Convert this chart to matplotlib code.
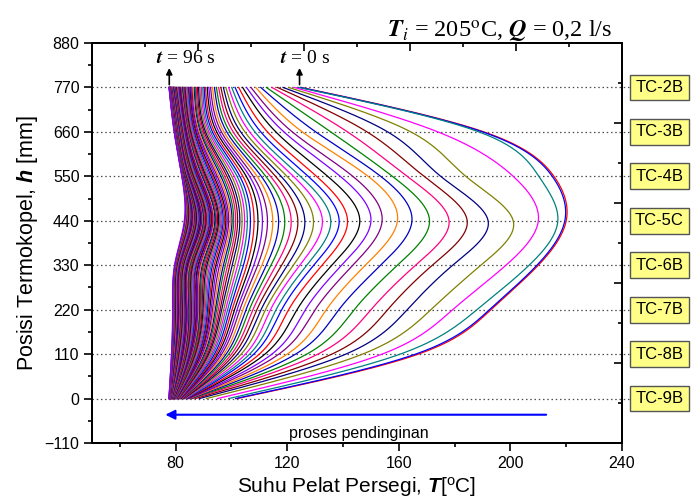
import numpy as np
import matplotlib.pyplot as plt
from matplotlib.patches import Rectangle

plt.rcParams['font.family'] = 'Liberation Sans'
plt.rcParams['mathtext.fontset'] = 'custom'
plt.rcParams['mathtext.rm'] = 'Liberation Sans'
plt.rcParams['mathtext.it'] = 'Liberation Sans:italic'
plt.rcParams['mathtext.bf'] = 'Liberation Sans:bold'
plt.rcParams['mathtext.bfit'] = 'Liberation Sans:bold:italic'

# thermocouple positions (mm) and labels
tc_names = ["TC-2B", "TC-3B", "TC-4B", "TC-5C", "TC-6B", "TC-7B", "TC-8B", "TC-9B"]
tc_pos = [770, 660, 550, 440, 330, 220, 110, 0]

# temperature (C) of each thermocouple, t = 0 ... 96 s, one value per second
tc2 = [125.0, 124.7, 124.0, 122.5, 120.5, 118.5, 116.5, 114.5, 112.5, 110.5,
       108.7, 107.0, 105.4, 104.0, 102.6, 101.3, 100.1, 99.0, 98.0, 97.1,
       96.2, 95.4, 94.6, 93.9, 93.2, 92.5, 91.9, 91.3, 90.7, 90.2,
       89.7, 89.2, 88.7, 88.2, 87.8, 87.4, 87.0, 86.6, 86.2, 85.8,
       85.5, 85.1, 84.8, 84.5, 84.2, 83.9, 83.6, 83.3, 83.0, 82.8,
       82.5, 82.3, 82.0, 81.8, 81.6, 81.4, 81.2, 81.0, 80.8, 80.6,
       80.4, 80.2, 80.0, 79.9, 79.7, 79.6, 79.4, 79.3, 79.2, 79.1,
       79.0, 78.9, 78.8, 78.7, 78.6, 78.5, 78.4, 78.3, 78.25, 78.2,
       78.15, 78.1, 78.05, 78.0, 77.95, 77.9, 77.85, 77.8, 77.78, 77.76,
       77.74, 77.72, 77.7, 77.68, 77.66, 77.64, 77.62]
tc3 = [190.5, 190.0, 188.7, 174.0, 164.3, 156.0, 148.6, 141.6, 135.6, 130.2,
       125.4, 121.8, 118.8, 115.9, 112.9, 110.5, 108.4, 106.5, 104.8, 103.3,
       101.9, 100.6, 99.4, 98.3, 97.3, 96.4, 95.5, 94.7, 93.9, 93.2,
       92.5, 91.9, 91.3, 90.7, 90.2, 89.7, 89.2, 88.8, 88.4, 88.0,
       87.6, 87.2, 86.9, 86.6, 86.3, 86.0, 85.7, 85.4, 85.1, 84.9,
       84.6, 84.4, 84.2, 84.0, 83.8, 83.6, 83.4, 83.2, 83.0, 82.8,
       82.6, 82.45, 82.3, 82.15, 82.0, 81.85, 81.7, 81.55, 81.4, 81.3,
       81.2, 81.1, 81.0, 80.9, 80.8, 80.7, 80.6, 80.5, 80.4, 80.3,
       80.25, 80.2, 80.15, 80.1, 80.05, 80.0, 79.95, 79.9, 79.85, 79.8,
       79.75, 79.7, 79.65, 79.6, 79.55, 79.5, 79.45]
tc4 = [215.6, 215.0, 210.2, 201.0, 184.0, 175.0, 169.0, 163.0, 157.7, 153.5,
       149.0, 143.5, 139.0, 134.5, 130.5, 127.5, 124.7, 122.2, 119.9, 117.8,
       115.8, 114.0, 112.3, 110.7, 109.2, 107.8, 106.5, 105.3, 104.1, 103.0,
       102.0, 101.0, 100.1, 99.2, 98.4, 97.6, 96.9, 96.2, 95.5, 94.9,
       94.3, 93.7, 93.2, 92.7, 92.2, 91.7, 91.3, 90.9, 90.5, 90.1,
       89.7, 89.4, 89.0, 88.7, 88.4, 88.1, 87.8, 87.5, 87.2, 86.9,
       86.7, 86.4, 86.2, 85.9, 85.7, 85.5, 85.3, 85.1, 84.9, 84.7,
       84.5, 84.35, 84.2, 84.05, 83.9, 83.75, 83.6, 83.45, 83.3, 83.15,
       83.0, 82.95, 82.9, 82.85, 82.8, 82.75, 82.7, 82.65, 82.6, 82.55,
       82.5, 82.45, 82.4, 82.35, 82.3, 82.25, 82.2]
tc5 = [220.0, 219.5, 217.0, 210.0, 201.0, 192.0, 184.5, 178.0, 171.0, 164.7,
       159.5, 154.0, 150.0, 146.0, 141.6, 138.6, 135.6, 132.6, 129.4, 126.3,
       123.8, 121.4, 119.1, 116.9, 114.8, 112.9, 111.1, 109.5, 108.1, 106.8,
       105.7, 104.7, 103.8, 103.0, 102.2, 101.5, 100.8, 100.2, 99.6, 99.0,
       98.5, 98.0, 97.5, 97.0, 96.6, 96.2, 95.8, 95.4, 95.0, 94.6,
       94.3, 94.0, 93.6, 93.3, 93.0, 92.7, 92.4, 92.1, 91.8, 91.5,
       91.2, 90.9, 90.6, 90.3, 90.0, 89.8, 89.5, 89.3, 89.0, 88.8,
       88.5, 88.3, 88.0, 87.8, 87.6, 87.4, 87.1, 86.9, 86.7, 86.5,
       86.3, 86.1, 85.9, 85.7, 85.5, 85.3, 85.1, 84.9, 84.7, 84.5,
       84.3, 84.1, 83.9, 83.7, 83.5, 83.3, 83.1]
tc6 = [210.0, 209.5, 206.7, 198.4, 189.4, 179.3, 172.0, 166.0, 159.5, 153.5,
       148.0, 143.5, 139.5, 136.0, 132.5, 129.5, 127.0, 124.5, 122.2, 120.1,
       118.0, 116.0, 114.2, 112.5, 110.9, 109.4, 108.0, 106.7, 105.5, 104.3,
       103.2, 102.2, 101.2, 100.3, 99.4, 98.6, 97.8, 97.1, 96.4, 95.7,
       95.0, 94.4, 93.8, 93.2, 92.7, 92.2, 91.7, 91.2, 90.7, 90.3,
       89.9, 89.5, 89.1, 88.7, 88.3, 88.0, 87.6, 87.3, 87.0, 86.7,
       86.4, 86.1, 85.8, 85.5, 85.3, 85.0, 84.8, 84.5, 84.3, 84.1,
       83.8, 83.6, 83.4, 83.2, 83.0, 82.8, 82.6, 82.4, 82.2, 82.0,
       81.85, 81.7, 81.5, 81.35, 81.2, 81.05, 80.9, 80.75, 80.6, 80.45,
       80.3, 80.15, 80.0, 79.9, 79.8, 79.7, 79.6]
tc7 = [193.0, 192.5, 188.0, 179.3, 171.5, 163.0, 156.0, 150.0, 144.0, 138.5,
       134.0, 130.0, 126.5, 123.5, 120.5, 118.0, 116.0, 114.0, 112.2, 110.6,
       109.1, 107.7, 106.4, 105.2, 104.1, 103.0, 102.0, 101.1, 100.2, 99.4,
       98.6, 97.9, 97.2, 96.5, 95.9, 95.3, 94.7, 94.2, 93.7, 93.2,
       92.7, 92.2, 91.8, 91.4, 91.0, 90.6, 90.2, 89.8, 89.4, 89.1,
       88.8, 88.5, 88.2, 87.9, 87.6, 87.3, 87.0, 86.7, 86.4, 86.1,
       85.8, 85.6, 85.3, 85.1, 84.8, 84.6, 84.3, 84.1, 83.9, 83.6,
       83.4, 83.2, 83.0, 82.8, 82.6, 82.4, 82.2, 82.0, 81.8, 81.6,
       81.4, 81.2, 81.0, 80.8, 80.6, 80.45, 80.3, 80.15, 80.0, 79.85,
       79.7, 79.55, 79.4, 79.25, 79.1, 79.0, 78.9]
tc8 = [167.0, 166.0, 160.5, 154.0, 147.0, 141.0, 136.0, 131.0, 127.0, 123.0,
       120.0, 117.0, 114.5, 112.0, 110.0, 108.0, 106.5, 105.0, 103.5, 102.2,
       101.0, 100.0, 99.0, 98.1, 97.3, 96.5, 95.8, 95.1, 94.5, 93.9,
       93.3, 92.8, 92.3, 91.8, 91.4, 91.0, 90.6, 90.2, 89.8, 89.5,
       89.1, 88.8, 88.5, 88.2, 87.9, 87.6, 87.3, 87.0, 86.8, 86.5,
       86.3, 86.0, 85.8, 85.6, 85.3, 85.1, 84.9, 84.7, 84.5, 84.3,
       84.1, 83.9, 83.7, 83.5, 83.3, 83.1, 82.9, 82.7, 82.5, 82.3,
       82.1, 81.9, 81.7, 81.5, 81.3, 81.1, 80.9, 80.7, 80.5, 80.35,
       80.2, 80.05, 79.9, 79.75, 79.6, 79.5, 79.4, 79.3, 79.2, 79.1,
       79.0, 78.9, 78.8, 78.7, 78.6, 78.55, 78.5]
tc9 = [102.0, 101.5, 99.0, 95.0, 91.0, 88.5, 87.0, 86.2, 85.6, 85.2,
       84.9, 84.6, 84.4, 84.2, 84.0, 83.8, 83.6, 83.4, 83.2, 83.0,
       82.8, 82.7, 82.5, 82.4, 82.2, 82.1, 81.9, 81.8, 81.7, 81.5,
       81.4, 81.3, 81.2, 81.1, 81.0, 80.9, 80.8, 80.7, 80.6, 80.5,
       80.4, 80.3, 80.2, 80.1, 80.0, 79.95, 79.9, 79.8, 79.7, 79.65,
       79.6, 79.5, 79.45, 79.4, 79.35, 79.3, 79.2, 79.15, 79.1, 79.05,
       79.0, 78.95, 78.9, 78.85, 78.8, 78.75, 78.7, 78.65, 78.6, 78.55,
       78.5, 78.45, 78.4, 78.35, 78.3, 78.25, 78.2, 78.15, 78.1, 78.05,
       78.0, 77.97, 77.94, 77.91, 77.88, 77.85, 77.82, 77.79, 77.76, 77.73,
       77.7, 77.68, 77.66, 77.64, 77.62, 77.6, 77.58]

# Origin-like colour increment
colors = ['#FF0000', '#0000FF', '#008080', '#FF00FF', '#808000', '#000080', '#800000',
          '#FF0080', '#008000', '#0000C0', '#FF8000', '#800080', '#8000FF', '#000000']


def natural_spline(x, y, xs):
    x = np.asarray(x, float); y = np.asarray(y, float)
    n = len(x)
    h = np.diff(x)
    A = np.zeros((n, n)); b = np.zeros(n)
    A[0, 0] = A[-1, -1] = 1
    for i in range(1, n - 1):
        A[i, i - 1] = h[i - 1]
        A[i, i] = 2 * (h[i - 1] + h[i])
        A[i, i + 1] = h[i]
        b[i] = 3 * ((y[i + 1] - y[i]) / h[i] - (y[i] - y[i - 1]) / h[i - 1])
    c = np.linalg.solve(A, b)
    bb = (y[1:] - y[:-1]) / h - h * (2 * c[:-1] + c[1:]) / 3
    d = (c[1:] - c[:-1]) / (3 * h)
    idx = np.clip(np.searchsorted(x, xs) - 1, 0, n - 2)
    dx = xs - x[idx]
    return y[idx] + bb[idx] * dx + c[idx] * dx ** 2 + d[idx] * dx ** 3


series = [tc9, tc8, tc7, tc6, tc5, tc4, tc3, tc2]   # bottom to top
for s in series:
    assert len(s) == 97, len(s)
heights = tc_pos[::-1]
temps = np.array(series)

fig = plt.figure(figsize=(6.91, 5.0), dpi=100)
ax = fig.add_axes([92 / 691, 57 / 500, 530 / 691, 400 / 500])

hh = np.linspace(0, 770, 300)
for k in range(temps.shape[1]):
    tt = natural_spline(heights, temps[:, k], hh)
    ax.plot(tt, hh, color=colors[k % len(colors)], lw=0.9, zorder=3)

# dotted thermocouple levels
for hv in tc_pos:
    ax.plot([50, 243], [hv, hv], ls=(0, (1.2, 2.2)), color='0.3', lw=0.9,
            clip_on=False, zorder=2)

# TC boxes on the right
for name, hv in zip(tc_names, tc_pos):
    ax.add_patch(Rectangle((1.015, hv - 32), 0.111, 64, transform=ax.get_yaxis_transform(),
                           facecolor='#FFFF88', edgecolor='#555555', lw=1, clip_on=False))
    ax.text(1.0705, hv, name, transform=ax.get_yaxis_transform(), ha='center', va='center',
            fontsize=12, clip_on=False)

ax.set_xlim(50, 240)
ax.set_ylim(-110, 880)
ax.set_xticks([80, 120, 160, 200, 240])
ax.set_xticks([60, 100, 140, 180, 220], minor=True)
ax.set_yticks(np.arange(-110, 881, 110))
ax.set_yticks(np.arange(-55, 881, 110), minor=True)
ax.tick_params(which='major', direction='out', length=6, width=1.2, labelsize=11.5, pad=3)
ax.tick_params(which='minor', direction='out', length=3, width=1.2)
for sp in ax.spines.values():
    sp.set_linewidth(1.3)

axt = ax.twiny()
axt.set_xlim(50, 240)
axt.set_xticks([50, 88, 126, 164, 202, 240])
axt.set_xticks([69, 107, 145, 183, 221], minor=True)
axt.tick_params(which='both', direction='in', labeltop=False, width=1.2)
axt.tick_params(which='major', length=6)
axt.tick_params(which='minor', length=3)
axr = ax.twinx()
axr.set_ylim(-110, 880)
axr.set_yticks([-110, 88, 286, 484, 682, 880])
axr.set_yticks([-11, 187, 385, 583, 781], minor=True)
axr.tick_params(which='both', direction='in', labelright=False, width=1.2)
axr.tick_params(which='major', length=6)
axr.tick_params(which='minor', length=3)
for a in (axt, axr):
    for sp in a.spines.values():
        sp.set_linewidth(1.3)

ax.set_xlabel(r"Suhu Pelat Persegi, $\mathbfit{T}$[$^{\mathrm{o}}$C]", fontsize=15, labelpad=3)
ax.set_ylabel(r"Posisi Termokopel, $\mathbfit{h}$ [mm]", fontsize=15.5, labelpad=3)

# time markers
for tx, txt_x, lab in [(77.7, 83.6, r"$\mathbfit{t}$ = 96 s"), (124.4, 126.3, r"$\mathbfit{t}$ = 0 s")]:
    ax.annotate('', xy=(tx, 825), xytext=(tx, 770),
                arrowprops=dict(arrowstyle='-|>', color='k', lw=1.2, mutation_scale=9),
                annotation_clip=False)
    ax.text(txt_x, 842, lab, ha='center', va='center', fontsize=14,
            family='Liberation Serif', math_fontfamily='stix')

# cooling direction
ax.annotate('', xy=(75.3, -40), xytext=(213.8, -40),
            arrowprops=dict(arrowstyle='-|>', color='#0000FF', lw=1.5, mutation_scale=14))
ax.text(145.5, -86, "proses pendinginan", ha='center', va='center', fontsize=11.5)

fig.text(500 / 691, 1 - 38 / 500, r"$\mathbfit{T}_{i}$ = 205$^{\mathrm{o}}$C, $\mathbfit{Q}$ = 0,2 l/s",
         ha='center', va='baseline', fontsize=17.5, family='Liberation Serif', math_fontfamily='stix')

fig.savefig('out.png', dpi=100)
